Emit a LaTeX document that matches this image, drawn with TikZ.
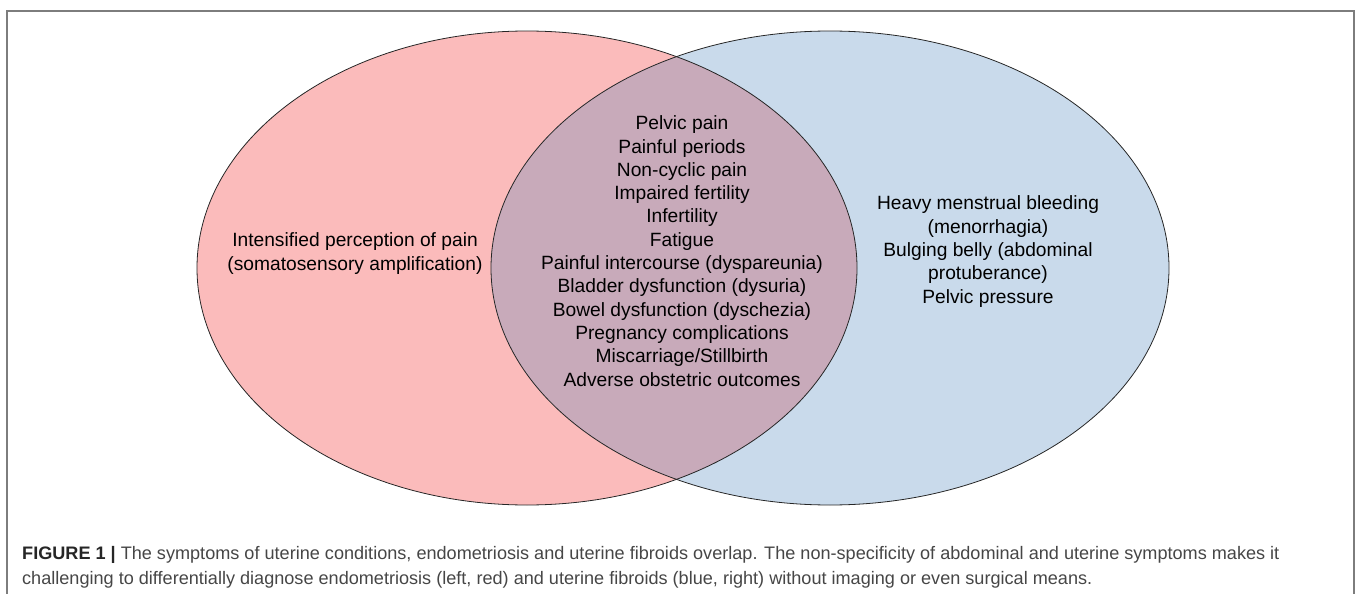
\documentclass[tikz,border=0pt]{standalone}
\usepackage{fontspec}
\setmainfont{Liberation Sans}
\usepackage{tikz}
\usetikzlibrary{positioning}

\definecolor{endored}{RGB}{251,187,187}
\definecolor{fibroblue}{RGB}{201,218,235}
\definecolor{bothmix}{RGB}{200,170,186}
\definecolor{framegray}{RGB}{125,125,125}
\definecolor{capgray}{RGB}{70,70,70}

\begin{document}
\begin{tikzpicture}
		[x=1pt, y=-1pt,
		set/.style={draw=black!85, line width=0.8pt},
		symptoms/.style={align=center, inner sep=0pt, font=\fontsize{19.2}{23.3}\selectfont},
		captext/.style={align=left, inner sep=0pt, text=capgray, font=\fontsize{18.1}{25}\selectfont}]
		\useasboundingbox (0,0) rectangle (1358,594);
		\draw[framegray, line width=1.5pt] (7,600) -- (7,11) -- (1354,11) -- (1354,600);

		% the two sets and their overlap
		\fill[endored] (527,268) ellipse [x radius=330, y radius=237];
		\fill[fibroblue] (830,268) ellipse [x radius=339, y radius=237];
		\begin{scope}
			\clip (527,268) ellipse [x radius=330, y radius=237];
			\fill[bothmix] (830,268) ellipse [x radius=339, y radius=237];
		\end{scope}
		\draw[set] (527,268) ellipse [x radius=330, y radius=237];
		\draw[set] (830,268) ellipse [x radius=339, y radius=237];

		% base anchor = baseline of the last line
		\node[symptoms, anchor=base] (endo) at (355,270)
			{Intensified perception of pain\\(somatosensory amplification)};
		\node[symptoms, anchor=base] (both) at (682,386)
			{Pelvic pain\\Painful periods\\Non-cyclic pain\\Impaired fertility\\Infertility\\Fatigue\\
			Painful intercourse (dyspareunia)\\Bladder dysfunction (dysuria)\\Bowel dysfunction (dyschezia)\\
			Pregnancy complications\\Miscarriage/Stillbirth\\Adverse obstetric outcomes};
		\node[symptoms, anchor=base] (fibro) at (988,303)
			{Heavy menstrual bleeding\\(menorrhagia)\\Bulging belly (abdominal\\protuberance)\\Pelvic pressure};

		\node[captext, anchor=base west] (caption) at (22,584)
			{{\color{black!85}\bfseries FIGURE 1 |} The symptoms of uterine conditions, endometriosis and uterine fibroids overlap. The non-specificity of abdominal and uterine symptoms makes it\\
			challenging to differentially diagnose endometriosis (left, red) and uterine fibroids (blue, right) without imaging or even surgical means.};
	\end{tikzpicture}
\end{document}
